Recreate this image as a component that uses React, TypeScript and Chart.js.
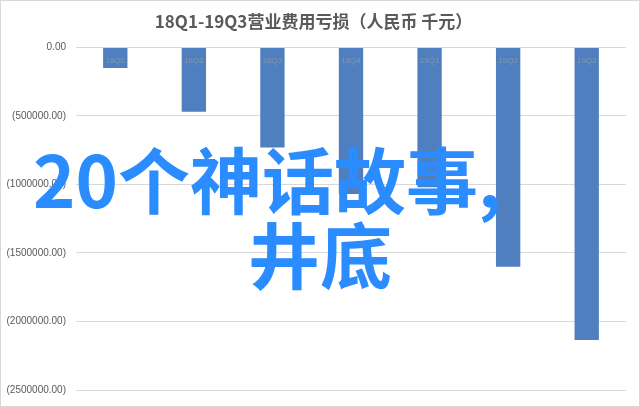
import React, { useEffect, useRef } from 'react';
import { Chart, registerables } from 'chart.js';

Chart.register(...registerables);

// quarters on the category axis
const quarters = ['18Q1', '18Q2', '18Q3', '18Q4', '19Q1', '19Q2', '19Q3'];
// operating expense loss, RMB thousand
const lossValues = [-150000, -470000, -730000, -1070000, -1020000, -1600000, -2135000];
// y axis range and step
const yMin = -2500000;
const yMax = 0;
const yStep = 500000;

const chartTitle = '18Q1-19Q3营业费用亏损（人民币 千元）';
const overlayLine1 = '20个神话故事,';
const overlayLine2 = '井底';

// 0 -> 0.00, negatives in brackets like Excel
const formatTick = (value: number) => {
  const abs = Math.abs(value).toFixed(2);
  return value < 0 ? `(${abs})` : abs;
};

// category labels sit just under the zero line, over the bars
const insideLabels = {
  id: 'insideLabels',
  afterDatasetsDraw(chart: any) {
    const { ctx, chartArea, scales } = chart;
    const x = scales.x;
    ctx.save();
    ctx.font = '8px "Liberation Sans", "Noto Sans"';
    ctx.fillStyle = '#8497b0';
    ctx.textAlign = 'center';
    ctx.textBaseline = 'middle';
    quarters.forEach((q, i) => {
      ctx.fillText(q, x.getPixelForTick(i), chartArea.top + 13);
    });
    ctx.restore();
  },
};

const App: React.FC = () => {
  const chartRef = useRef<HTMLCanvasElement | null>(null);
  const chartInstance = useRef<Chart | null>(null);

  useEffect(() => {
    if (!chartRef.current) return;
    const ctx = chartRef.current.getContext('2d');
    if (!ctx) return;

    chartInstance.current = new Chart(ctx, {
      type: 'bar',
      data: {
        labels: quarters,
        datasets: [
          {
            label: '营业费用亏损',
            data: lossValues,
            backgroundColor: '#4f7fbf',
            borderWidth: 0,
            categoryPercentage: 0.62,
            barPercentage: 0.5,
          },
        ],
      },
      options: {
        responsive: false,
        animation: false,
        layout: {
          padding: { left: 0, right: 13, top: 0, bottom: 15 },
        },
        plugins: {
          legend: { display: false },
          tooltip: { enabled: false },
          title: {
            display: true,
            text: chartTitle,
            color: '#595959',
            font: { family: '"Noto Sans CJK SC", "Noto Sans"', size: 17, weight: 'bold' },
            padding: { top: 10, bottom: 16 },
          },
        },
        scales: {
          x: {
            position: 'top',
            grid: { display: false },
            border: { display: false },
            ticks: { display: false },
            afterFit: (scale: any) => {
              scale.height = 0;
            },
          },
          y: {
            min: yMin,
            max: yMax,
            grid: { color: '#d9d9d9', drawTicks: false },
            border: { display: false },
            ticks: {
              stepSize: yStep,
              padding: 10,
              color: '#595959',
              font: { family: '"Liberation Sans", "Noto Sans"', size: 10 },
              callback: (value: any) => formatTick(Number(value)),
            },
            afterFit: (scale: any) => {
              scale.width = 75;
            },
          },
        },
      },
      plugins: [insideLabels],
    });

    return () => {
      if (chartInstance.current) {
        chartInstance.current.destroy();
        chartInstance.current = null;
      }
    };
  }, []);

  const overlayStyle: React.CSSProperties = {
    position: 'absolute',
    fontFamily: '"Noto Sans CJK SC", "Noto Sans"',
    fontWeight: 700,
    fontSize: '72px',
    lineHeight: '72px',
    color: '#2a8cff',
    whiteSpace: 'nowrap',
    pointerEvents: 'none',
  };

  return (
    <div
      style={{
        position: 'fixed',
        left: 0,
        top: 0,
        width: 640,
        height: 407,
        background: '#fff',
        border: '1px solid #d9d9d9',
        boxSizing: 'border-box',
        overflow: 'hidden',
      }}
    >
      <canvas ref={chartRef} width={638} height={405} style={{ width: 638, height: 405 }} />
      <div style={{ ...overlayStyle, left: 32, top: 140 }}>{overlayLine1}</div>
      <div style={{ ...overlayStyle, left: 247, top: 215 }}>{overlayLine2}</div>
    </div>
  );
};

export default App;
